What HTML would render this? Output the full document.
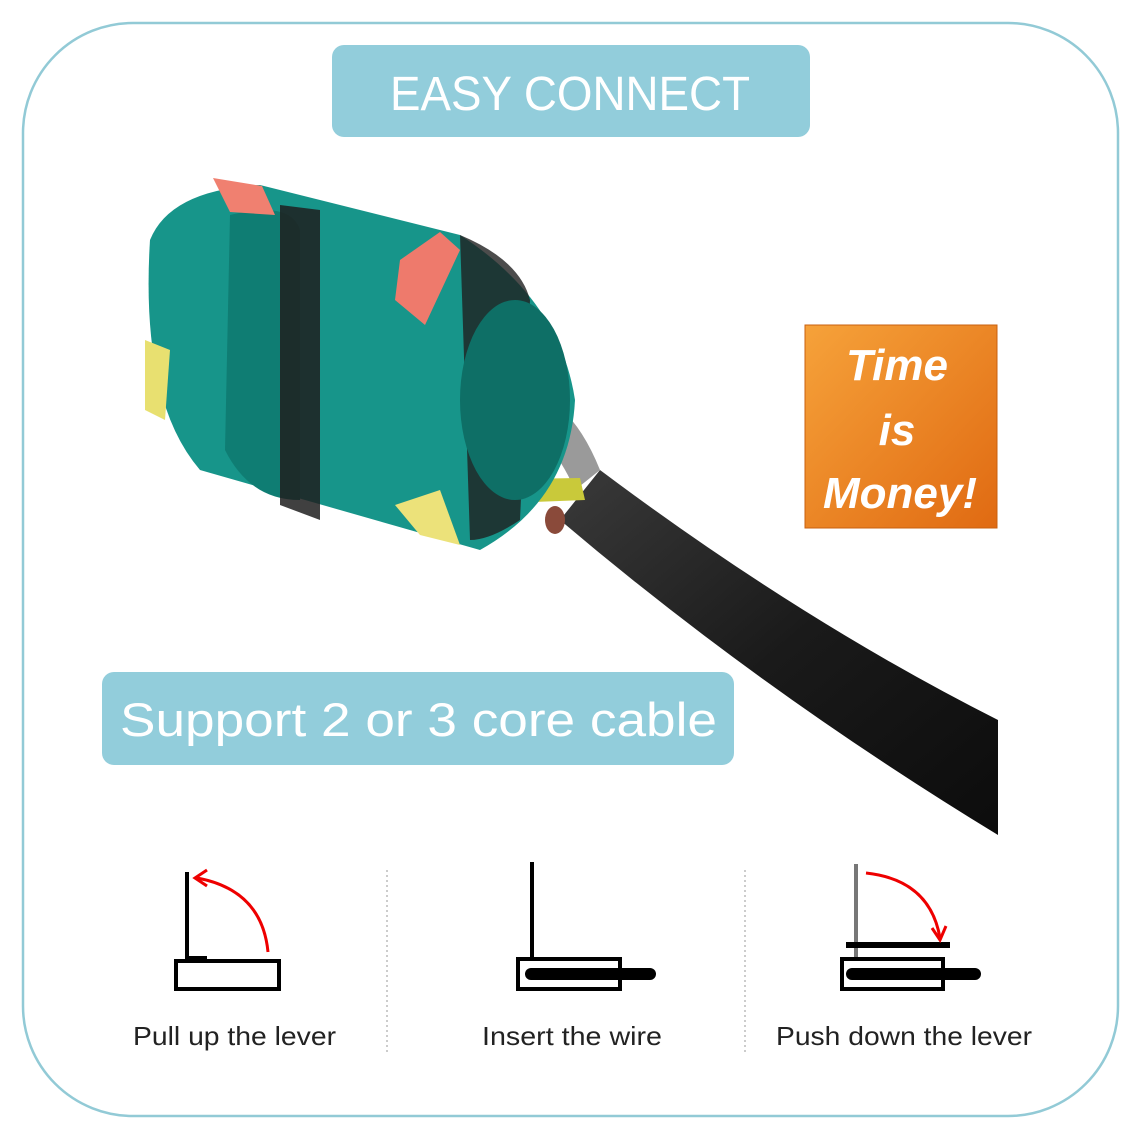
<!DOCTYPE html>
<html><head><meta charset="utf-8"><style>
html,body{margin:0;padding:0;background:#fff}
body{width:1134px;height:1134px;position:relative;overflow:hidden;font-family:"Liberation Sans",sans-serif}
</style></head><body>
<svg width="1134" height="1134" viewBox="0 0 1134 1134" xmlns="http://www.w3.org/2000/svg" style="position:absolute;left:0;top:0">
<defs>
<linearGradient id="og" x1="0" y1="0" x2="1" y2="1"><stop offset="0" stop-color="#f6a23a"/><stop offset="1" stop-color="#e06a12"/></linearGradient>
<linearGradient id="cab" x1="0" y1="0" x2="1" y2="1"><stop offset="0" stop-color="#3a3a3a"/><stop offset="0.5" stop-color="#1a1a1a"/><stop offset="1" stop-color="#0c0c0c"/></linearGradient>
</defs>
<rect x="23" y="23" width="1095" height="1093" rx="110" fill="#fff" stroke="#92cad6" stroke-width="2.5"/>
<!-- cable -->
<path d="M560 520 L600 470 Q800 620 998 720 L998 835 Q760 690 560 520 Z" fill="url(#cab)"/>
<path d="M480 390 Q560 370 600 470 L575 490 Q540 410 480 420 Z" fill="#9a9a9a"/>
<path d="M455 480 L580 478 L585 500 L455 505 Z" fill="#c9c93a"/>
<ellipse cx="555" cy="520" rx="10" ry="14" fill="#8a4a3a"/>
<!-- connector -->
<path d="M150 240 Q170 190 260 185 L460 235 Q560 300 575 400 Q570 500 480 550 L200 470 Q140 400 150 240 Z" fill="#17958a"/>
<path d="M230 215 Q290 200 300 230 L300 500 Q250 500 225 450 Z" fill="#0f7d73"/>
<path d="M280 205 L320 210 L320 520 L280 505 Z" fill="#1f1f1f" opacity="0.85"/>
<path d="M460 235 Q520 260 530 300 L520 520 Q490 540 470 540 Z" fill="#1f1f1f" opacity="0.8"/>
<ellipse cx="515" cy="400" rx="55" ry="100" fill="#0e6f66"/>
<path d="M213 178 L262 186 L275 215 L230 212 Z" fill="#f08070"/>
<path d="M400 260 L440 232 L460 250 L425 325 L395 300 Z" fill="#ee7a6c"/>
<path d="M145 340 L170 350 L165 420 L145 410 Z" fill="#e8e070"/>
<path d="M395 505 L440 490 L460 545 L420 535 Z" fill="#ece27a"/>
<!-- title -->
<rect x="332" y="45" width="478" height="92" rx="12" fill="#92cddb"/>
<text x="390" y="110" textLength="360" lengthAdjust="spacingAndGlyphs" font-size="48" fill="#fff" font-family="Liberation Sans, sans-serif">EASY CONNECT</text>
<rect x="102" y="672" width="632" height="93" rx="12" fill="#92cddb"/>
<text x="120" y="736" textLength="597" lengthAdjust="spacingAndGlyphs" font-size="47" fill="#fff" font-family="Liberation Sans, sans-serif">Support 2 or 3 core cable</text>
<rect x="805" y="325" width="192" height="203" fill="url(#og)" stroke="#c9600f"/>
<g font-size="44" font-style="italic" font-weight="bold" fill="#fff" text-anchor="middle" font-family="Liberation Sans, sans-serif">
<text x="897" y="380">Time</text><text x="897" y="445">is</text><text x="900" y="508">Money!</text></g>
<!-- bottom -->
<line x1="387" y1="870" x2="387" y2="1055" stroke="#999" stroke-dasharray="2,3"/>
<line x1="745" y1="870" x2="745" y2="1055" stroke="#999" stroke-dasharray="2,3"/>
<g stroke="#000" fill="none">
<line x1="187" y1="872" x2="187" y2="962" stroke-width="4"/>
<rect x="176" y="961" width="103" height="28" stroke-width="4"/>
<rect x="187" y="956" width="20" height="6" fill="#000" stroke="none"/>
<line x1="532" y1="862" x2="532" y2="958" stroke-width="4"/>
<rect x="518" y="959" width="102" height="30" stroke-width="4"/>
<line x1="531" y1="974" x2="650" y2="974" stroke-width="12" stroke-linecap="round"/>
<line x1="856" y1="864" x2="856" y2="960" stroke="#777" stroke-width="4"/>
<line x1="846" y1="945" x2="950" y2="945" stroke-width="6"/>
<rect x="842" y="959" width="101" height="30" stroke-width="4"/>
<line x1="852" y1="974" x2="975" y2="974" stroke-width="12" stroke-linecap="round"/>
</g>
<g stroke="#e00" stroke-width="3" fill="none">
<path d="M268 952 Q262 890 197 878"/><path d="M207 870 L195 878 L207 886"/>
<path d="M866 873 Q930 880 940 938"/><path d="M932 928 L940 940 L946 926"/>
</g>
<g font-size="26" fill="#222" font-family="Liberation Sans, sans-serif">
<text x="133" y="1045" textLength="203" lengthAdjust="spacingAndGlyphs">Pull up the lever</text>
<text x="482" y="1045" textLength="180" lengthAdjust="spacingAndGlyphs">Insert the wire</text>
<text x="776" y="1045" textLength="256" lengthAdjust="spacingAndGlyphs">Push down the lever</text>
</g>
</svg>
</body></html>
